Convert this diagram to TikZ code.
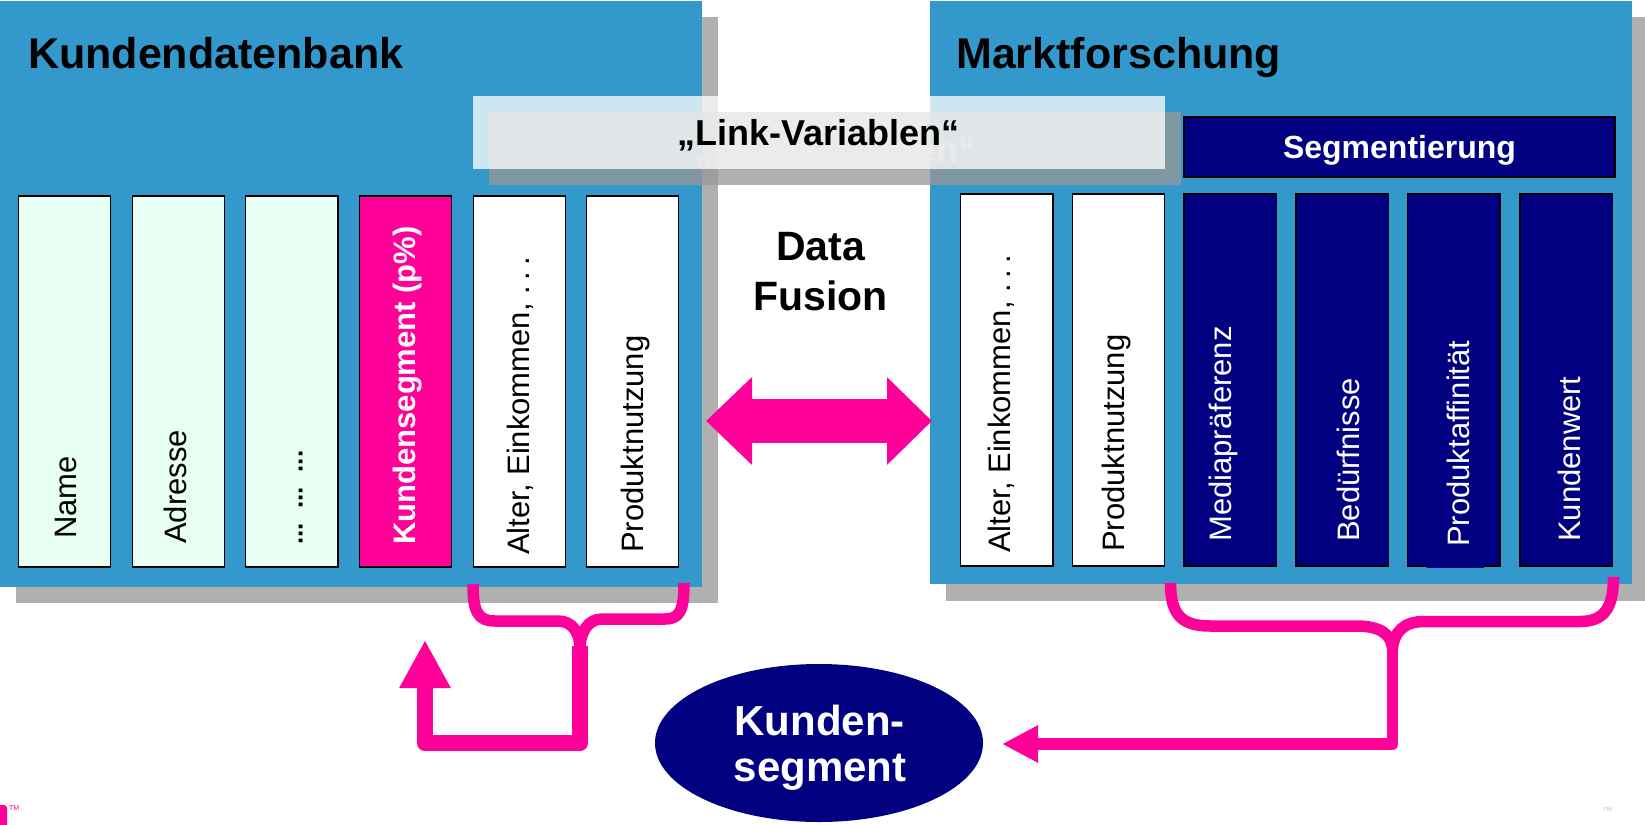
\documentclass[tikz,border=0pt]{standalone}
\usepackage{fontspec}
\setmainfont{Liberation Sans}
\usetikzlibrary{arrows.meta,shapes.geometric}
\definecolor{panelblue}{HTML}{3399CC}
\definecolor{hotpink}{HTML}{FF0099}
\definecolor{navyblue}{HTML}{000080}
\definecolor{mintc}{HTML}{E8FFF4}
\definecolor{shadowc}{HTML}{B0B0B0}
\definecolor{bannerc}{HTML}{989898}
\newcommand{\dotsgap}{\hspace{6pt}}
\tikzset{
  colbox/.style={draw=black, line width=1.2pt, inner sep=0pt, minimum width=92.2pt, minimum height=371pt},
  coltext/.style={rotate=90, anchor=base west, inner sep=0pt, font=\fontsize{31}{31}\selectfont},
  coltextb/.style={coltext, font=\fontsize{31}{31}\selectfont\bfseries},
  titletext/.style={anchor=base west, inner sep=0pt, font=\fontsize{43}{43}\selectfont\bfseries},
  bigbold/.style={anchor=base, inner sep=0pt, font=\fontsize{41}{41}\selectfont\bfseries},
  linktext/.style={anchor=base, inner sep=0pt, font=\fontsize{36}{36}\selectfont\bfseries},
  bracestroke/.style={draw=hotpink, line width=11.5pt, line cap=butt, line join=round},
}
\begin{document}
\begin{tikzpicture}[x=1pt,y=-1pt]
\useasboundingbox (0,0) rectangle (1645,824);
% panels with shadows
\fill[shadowc] (16,17) rectangle (717.5,602.7);
\fill[panelblue] (0,1) rectangle (701.5,586.7);
\fill[shadowc] (946,17) rectangle (1660,600.5);
\fill[panelblue] (930,1) rectangle (1631.6,584.3);
% titles
\node[titletext] (kdbt) at (28,69) {Kundendatenbank};
\node[titletext] (mft) at (956,69) {Marktforschung};
% link variable banners
\fill[bannerc, opacity=0.765] (489,112) rectangle (1181,185);
\node[linktext, text=shadowc] (linkghost) at (835.5,162) {„Link-Variablen“};
\fill[white, opacity=0.755] (473,96) rectangle (1165,169);
\node[linktext] (link) at (818.5,145) {„Link-Variablen“};
% Segmentierung
\node[fill=navyblue, draw=black, line width=1.2pt, minimum width=431pt, minimum height=60pt, inner sep=0pt,
      text=white, font=\fontsize{32}{32}\selectfont\bfseries, text depth=0pt] (segm) at (1399.5,147) {Segmentierung};
% left columns
\node[colbox, fill=mintc] (l1) at (64.5,381.5) {};
\node[colbox, fill=mintc] (l2) at (178.5,381.5) {};
\node[colbox, fill=mintc] (l3) at (291.9,381.5) {};
\node[colbox, fill=hotpink] (l4) at (405.2,381.5) {};
\node[colbox, fill=white] (l5) at (519.2,381.5) {};
\node[colbox, fill=white] (l6) at (632.5,381.5) {};
\node[coltext] (l1t) at (76,539) {Name};
\node[coltext] (l2t) at (186,544) {Adresse};
\node[coltext, font=\fontsize{26}{26}\selectfont\bfseries] (l3t) at (302.7,545) {...\hspace{14.6pt}...\hspace{14.6pt}...};
\node[coltextb, text=white] (l4t) at (415.5,545) {Kundensegment (p\%)};
\node[coltext] (l5t) at (529,555) {Alter, Einkommen,\ .\dotsgap.\dotsgap.};
\node[coltext] (l6t) at (643,553) {Produktnutzung};
% right columns
\node[colbox, fill=white, minimum height=372pt] (r1) at (1006.8,380) {};
\node[colbox, fill=white, minimum height=372pt] (r2) at (1118.7,380) {};
\node[colbox, fill=navyblue, minimum height=372pt] (r3) at (1230.1,380) {};
\node[colbox, fill=navyblue, minimum height=372pt] (r4) at (1342,380) {};
\node[colbox, fill=navyblue, minimum height=372pt] (r5) at (1453.8,380) {};
\node[colbox, fill=navyblue, minimum height=372pt] (r6) at (1566.1,380) {};
\fill[navyblue] (1426.5,560) rectangle (1484,567.7);
\node[coltext] (r1t) at (1010,553) {Alter, Einkommen,\ .\dotsgap.\dotsgap.};
\node[coltext] (r2t) at (1124.5,552) {Produktnutzung};
\node[coltext, text=white] (r3t) at (1231.5,542) {Mediapräferenz};
\node[coltext, text=white] (r4t) at (1359,542) {Bedürfnisse};
\node[coltext, text=white] (r5t) at (1469,547) {Produktaffinität};
\node[coltext, text=white] (r6t) at (1580,542) {Kundenwert};
% Data Fusion
\node[bigbold] (dfa) at (820.5,260) {Data};
\node[bigbold] (dfb) at (820.5,310) {Fusion};
\coordinate (dfl) at (706,421);
\coordinate (dfr) at (932,421);
\draw[hotpink, line width=44pt, {Triangle[length=46pt,width=85pt]}-{Triangle[length=45pt,width=85pt]}] (dfl) -- (dfr);
% left brace and return arrow
\coordinate (lb1) at (473,584);
\coordinate (lb2) at (684,583);
\coordinate (lj) at (580,646);
\coordinate (ltip) at (425,640);
\draw[bracestroke] (lb1) .. controls (473,612) and (478,621) .. (495,621) -- (558,621) .. controls (572,621) and (579,632) .. (lj);
\draw[bracestroke] (lb2) .. controls (684,610) and (680,619) .. (665,619) -- (602,619) .. controls (588,619) and (581,632) .. (lj);
\draw[hotpink, line width=16.5pt, line join=round, -{Triangle[length=48pt,width=48pt]}] (lj) |- (500,743) -| (ltip);
% right brace and arrow to segment
\coordinate (rb1) at (1170.5,583);
\coordinate (rb2) at (1613.5,577);
\coordinate (rj) at (1392.5,648);
\coordinate (rtip) at (1002,744);
\draw[bracestroke] (rb1) .. controls (1170.5,615) and (1182,626) .. (1210,626) -- (1356,626) .. controls (1380,626) and (1391,634) .. (rj);
\draw[bracestroke] (rb2) .. controls (1613.5,608) and (1604,621.5) .. (1580,621.5) -- (1424,621.5) .. controls (1402,621.5) and (1394,634) .. (rj);
\draw[hotpink, line width=11.5pt, line join=round, -{Triangle[length=36pt,width=35pt]}] (rj) |- (rtip);
% ellipse
\node[ellipse, fill=navyblue, minimum width=328pt, minimum height=158pt, inner sep=0pt] (seg) at (819,743) {};
\node[bigbold, text=white, font=\fontsize{42}{42}\selectfont\bfseries] (sega) at (819.5,735) {Kunden-};
\node[bigbold, text=white, font=\fontsize{42}{42}\selectfont\bfseries] (segb) at (820,781.7) {segment};
% trademark marks
\fill[hotpink, rounded corners=3pt] (-6,805) rectangle (7,835);
\node[anchor=north west, inner sep=0pt, text=hotpink, font=\fontsize{7}{7}\selectfont] (tml) at (9,805.5) {TM};
\node[anchor=north west, inner sep=0pt, text=black!25, font=\fontsize{6}{6}\selectfont] (tmr) at (1603,807.5) {TM};
\end{tikzpicture}
\end{document}
